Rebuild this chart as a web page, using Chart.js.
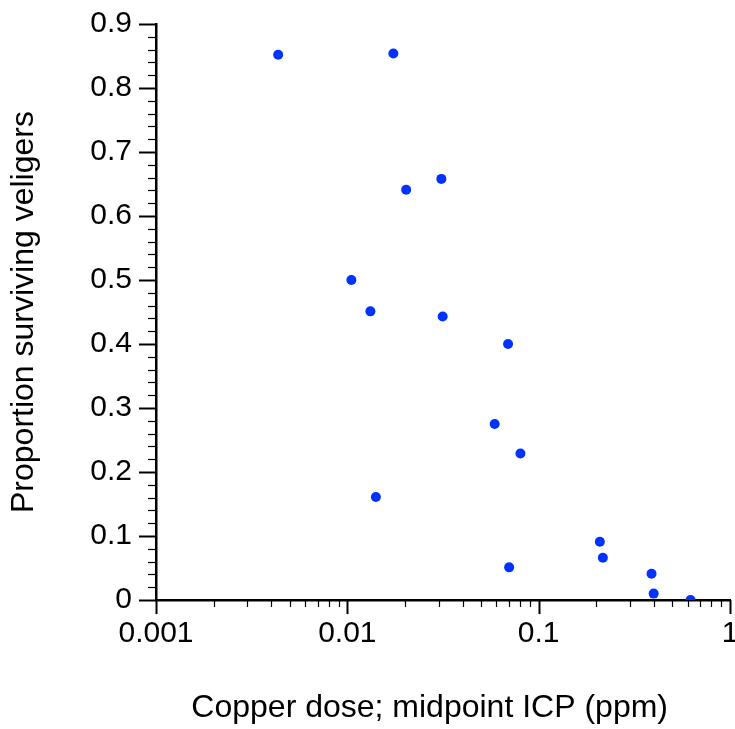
<!DOCTYPE html>
<html>
<head>
<meta charset="utf-8">
<script src="https://cdn.jsdelivr.net/npm/chart.js@4"></script>
<style>
  html, body { margin: 0; padding: 0; background: #fff; }
  #wrap { width: 735px; height: 729px; }
</style>
</head>
<body>
<div id="wrap"><canvas id="chart" width="735" height="729"></canvas></div>
<script>
// Data (copper dose in ppm, proportion surviving)
const copperDose = [0.00435, 0.0174, 0.0203, 0.0310, 0.0105, 0.0132, 0.0315, 0.0692, 0.0589,
                    0.0803, 0.0141, 0.2088, 0.2165, 0.0701, 0.389, 0.399, 0.622];
const survival   = [0.852, 0.854, 0.641, 0.658, 0.500, 0.451, 0.443, 0.400, 0.275,
                    0.229, 0.161, 0.091, 0.066, 0.051, 0.041, 0.010, 0.000];

const xMajorTicks = [0.001, 0.01, 0.1, 1];
const xMinorSteps = [2, 3, 4, 5, 6, 7, 8, 9];
const yTickLabels = ['0', '0.1', '0.2', '0.3', '0.4', '0.5', '0.6', '0.7', '0.8', '0.9'];

const xTitle = 'Copper dose; midpoint ICP (ppm)';
const yTitle = 'Proportion surviving veligers';

const FONT = "'Liberation Sans', Arial, Helvetica, sans-serif";
const DOT = '#0033ff';

// x ticks: decades plus 2..9 in between
const xTickValues = [];
xMajorTicks.forEach((m, i) => {
  xTickValues.push({ value: m, major: true });
  if (i < xMajorTicks.length - 1) xMinorSteps.forEach(s => xTickValues.push({ value: +(m * s).toPrecision(3), major: false }));
});

// Tick marks drawn outside the axes (long = labelled, short = minor)
const tickMarks = {
  id: 'tickMarks',
  afterDraw(chart) {
    const ctx = chart.ctx;
    const xs = chart.scales.x, ys = chart.scales.y;
    const area = chart.chartArea;
    ctx.save();
    ctx.strokeStyle = '#000';
    xs.ticks.forEach(t => {
      const px = Math.round(xs.getPixelForValue(t.value)) + 0.5;
      ctx.lineWidth = t.major ? 2 : 1.2;
      ctx.beginPath();
      ctx.moveTo(px, area.bottom);
      ctx.lineTo(px, area.bottom + (t.major ? 14 : 7));
      ctx.stroke();
    });
    ys.ticks.forEach(t => {
      const major = Math.round(t.value * 50) % 5 === 0;
      const py = Math.round(ys.getPixelForValue(t.value)) + 0.5;
      ctx.lineWidth = major ? 2 : 1.2;
      ctx.beginPath();
      ctx.moveTo(area.left, py);
      ctx.lineTo(area.left - (major ? 17 : 8), py);
      ctx.stroke();
    });
    ctx.restore();
  }
};

new Chart(document.getElementById('chart'), {
  type: 'scatter',
  data: {
    datasets: [{
      data: copperDose.map((x, i) => ({ x: x, y: survival[i] })),
      backgroundColor: DOT,
      borderWidth: 0,
      pointRadius: 5,
      pointHoverRadius: 5
    }]
  },
  options: {
    responsive: false,
    animation: false,
    events: [],
    layout: { padding: { left: 0, right: 5, top: 24, bottom: 0 } },
    plugins: { legend: { display: false }, tooltip: { enabled: false } },
    scales: {
      x: {
        type: 'logarithmic',
        min: 0.001,
        max: 1,
        afterBuildTicks: s => { s.ticks = xTickValues.map(t => ({ value: t.value, major: t.major })); },
        afterFit: s => { s.height = 129; s.paddingRight = 0; },
        grid: { display: false, drawTicks: false },
        border: { display: true, color: '#000', width: 2.5 },
        ticks: {
          autoSkip: false,
          maxRotation: 0,
          padding: 16,
          color: '#000',
          font: { family: FONT, size: 30 },
          callback: (v, i, ticks) => ticks[i].major ? String(xMajorTicks.find(m => Math.abs(m - v) < m * 1e-6)) : ''
        },
        title: {
          display: true,
          text: xTitle + '\u00a0\u00a0\u00a0',
          color: '#000',
          font: { family: FONT, size: 32 },
          padding: { top: 0, bottom: 2 }
        }
      },
      y: {
        min: 0,
        max: 0.9,
        afterFit: s => { s.width = 156; s.paddingTop = 0; s.paddingBottom = 0; },
        grid: { display: false, drawTicks: false },
        border: { display: true, color: '#000', width: 2.5 },
        ticks: {
          stepSize: 0.02,
          autoSkip: false,
          padding: 24,
          color: '#000',
          font: { family: FONT, size: 30 },
          callback: v => {
            const k = Math.round(v * 50);
            return k % 5 === 0 ? yTickLabels[k / 5] : '';
          }
        },
        title: {
          display: true,
          text: yTitle,
          color: '#000',
          font: { family: FONT, size: 32 },
          padding: { top: 5, bottom: 0 }
        }
      }
    }
  },
  plugins: [tickMarks]
});
</script>
</body>
</html>
